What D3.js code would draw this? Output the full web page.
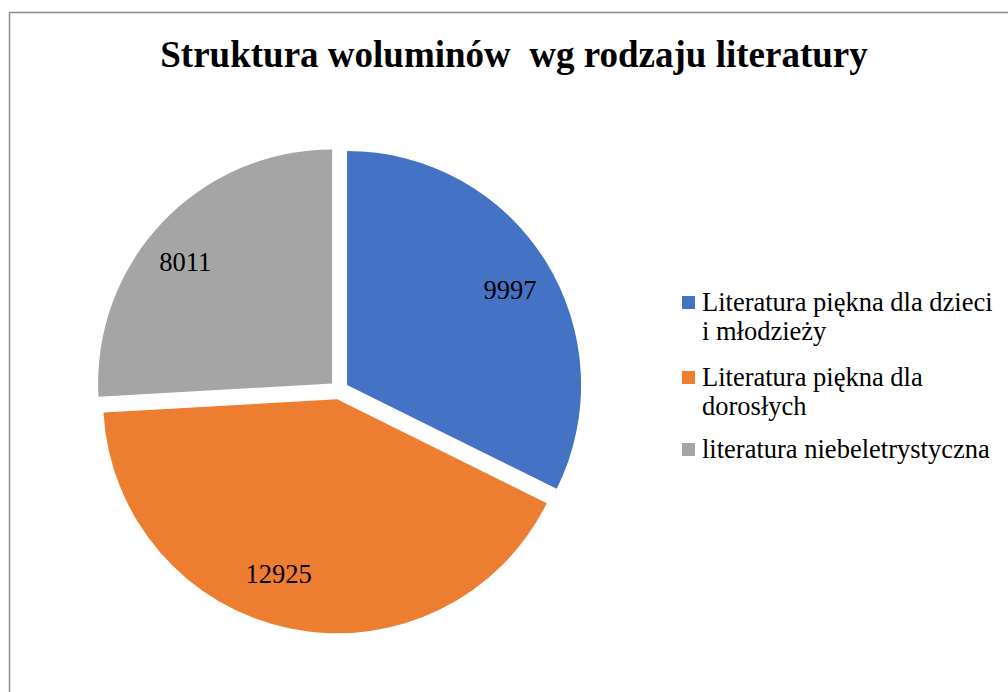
<!DOCTYPE html>
<html>
<head>
<meta charset="utf-8">
<script src="https://cdn.jsdelivr.net/npm/d3@7"></script>
<style>
  body { margin: 0; background: #fff; }
  text { font-family: "Liberation Serif", "Times New Roman", serif; fill: #000; }
</style>
</head>
<body>
<div id="chart-area"></div>
<script>
var categories = ["Literatura piękna dla dzieci i młodzieży", "Literatura piękna dla dorosłych", "literatura niebeletrystyczna"];
var legendLines = [["Literatura piękna dla dzieci", "i młodzieży"], ["Literatura piękna dla", "dorosłych"], ["literatura niebeletrystyczna"]];
var values = [9997, 12925, 8011];
var colors = ["#4472C4", "#ED7D31", "#A5A5A5"];
var title = "Struktura woluminów\u00a0 wg rodzaju literatury";

var width = 1008, height = 692;
var cx = 339, cy = 390, radius = 234, explode = 9.5;

// "best fit" label placement: angle nudge (deg) and radius fraction per slice
var labelNudge = [1.6, 7, -3.7];
var labelRadius = [0.806, 0.786, 0.815];

var svg = d3.select("#chart-area").append("svg")
            .attr("width", width)
            .attr("height", height);

// chart border (runs off the right and bottom edge)
svg.append("rect")
   .attr("x", 9.5).attr("y", 12.5)
   .attr("width", 1100).attr("height", 800)
   .attr("fill", "none")
   .attr("stroke", "#8c8c8c")
   .attr("stroke-width", 1.5);

svg.append("text")
   .attr("x", 514)
   .attr("y", 67)
   .attr("text-anchor", "middle")
   .attr("font-weight", "bold")
   .attr("font-size", "37px")
   .text(title);

var pie = d3.pie().sort(null).value(function(d){ return d; });
var arc = d3.arc().innerRadius(0).outerRadius(radius);

var arcs = pie(values);

var g = svg.append("g")
           .attr("transform", "translate(" + cx + "," + cy + ")");

var slices = g.selectAll("g.slice")
  .data(arcs)
  .enter()
  .append("g")
  .attr("class", "slice")
  .attr("transform", function(d){
    var a = (d.startAngle + d.endAngle) / 2;
    return "translate(" + (Math.sin(a) * explode) + "," + (-Math.cos(a) * explode) + ")";
  });

slices.append("path")
  .attr("d", arc)
  .attr("fill", function(d, i){ return colors[i]; });

// data labels
slices.append("text")
  .attr("transform", function(d, i){
    var a = (d.startAngle + d.endAngle) / 2 + labelNudge[i] * Math.PI / 180;
    var r = radius * labelRadius[i];
    return "translate(" + (Math.sin(a) * r) + "," + (-Math.cos(a) * r) + ")";
  })
  .attr("text-anchor", "middle")
  .attr("dy", "0.35em")
  .attr("font-size", "26.5px")
  .text(function(d){ return d.data; });

// legend
var legendY = [311, 386, 458];
var legend = svg.selectAll("g.legend")
  .data(categories)
  .enter()
  .append("g")
  .attr("class", "legend")
  .attr("transform", function(d, i){ return "translate(682," + legendY[i] + ")"; });

legend.append("rect")
  .attr("x", 0).attr("y", -15)
  .attr("width", 13).attr("height", 13)
  .attr("fill", function(d, i){ return colors[i]; });

legend.append("text")
  .attr("x", 20)
  .attr("font-size", "26.5px")
  .selectAll("tspan")
  .data(function(d, i){ return legendLines[i]; })
  .enter()
  .append("tspan")
  .attr("x", 20)
  .attr("dy", function(d, j){ return j === 0 ? 0 : 29; })
  .text(function(d){ return d; });
</script>
</body>
</html>
